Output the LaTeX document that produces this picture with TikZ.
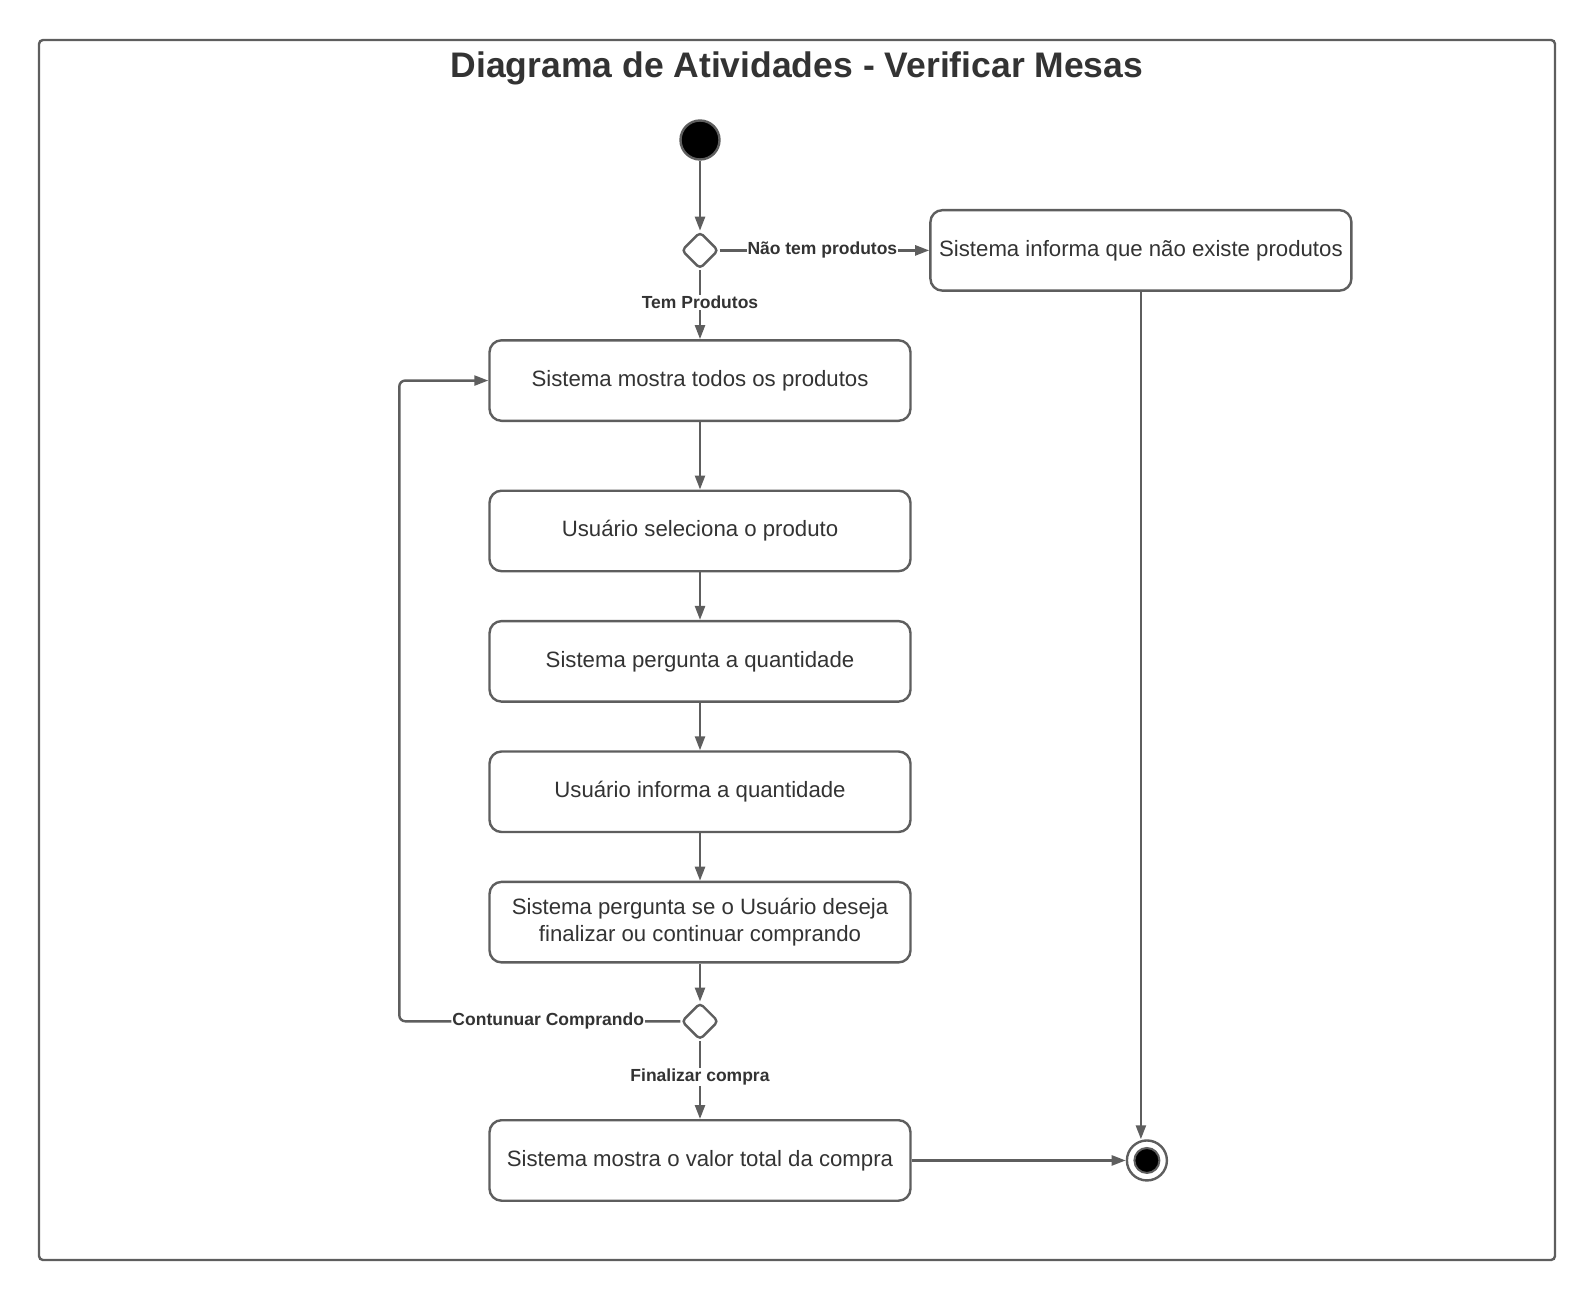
\documentclass[tikz,border=0pt]{standalone}
\usepackage{fontspec}
\setmainfont{Liberation Sans}
\usetikzlibrary{positioning,arrows.meta,shapes.geometric}
\definecolor{aLine}{RGB}{94,94,94}
\definecolor{aText}{RGB}{51,51,51}
\tikzset{
  act/.style={rectangle, rounded corners=12pt, draw=aLine, line width=2.4pt, fill=white,
              minimum height=80.5pt, minimum width=421pt, align=center, text=aText,
              font=\fontsize{22.2}{27}\selectfont},
  dec/.style={diamond, rounded corners=4pt, draw=aLine, line width=2.4pt, fill=white,
              minimum size=37pt, inner sep=0pt},
  ini/.style={circle, draw=aLine, fill=black, line width=2.4pt, minimum size=39pt},
  fin/.style={circle, draw=aLine, fill=white, line width=2.4pt, minimum size=40pt},
  finin/.style={circle, draw=aLine, fill=black, line width=2pt, minimum size=25pt},
  flow/.style={-{Triangle[length=14pt,width=10pt]}, draw=aLine, line width=2.4pt},
  lbl/.style={font=\bfseries\fontsize{17.5}{20}\selectfont, text=aText, fill=white, inner sep=1pt},
}

\begin{document}
\begin{tikzpicture}[x=1pt, y=-1pt, node distance=47.5pt]
  \useasboundingbox (0,0) rectangle (1595,1300);
  \draw[aLine, line width=2.4pt, rounded corners=4pt] (39,40) rectangle (1555,1260);
  \node[font=\bfseries\fontsize{35.5}{40}\selectfont, text=aText] (titulo) at (797,68)
    {Diagrama de Atividades - Verificar Mesas};

  % --- main flow ------------------------------------------------------------
  \node[ini] (inicio) at (700,140) {};
  \node[dec, below=70pt of inicio] (dec1) {};
  \node[act, below=69pt of dec1] (mostra) {Sistema mostra todos os produtos};
  \node[act, below=67.5pt of mostra] (seleciona) {Usuário seleciona o produto};
  \node[act, below=of seleciona] (pergunta) {Sistema pergunta a quantidade};
  \node[act, below=of pergunta] (informa) {Usuário informa a quantidade};
  \node[act, below=of informa] (deseja) {Sistema pergunta se o Usuário deseja\\finalizar ou continuar comprando};
  \node[dec, below=38pt of deseja] (dec2) {};
  \node[act, below=78pt of dec2] (total) {Sistema mostra o valor total da compra};

  % --- no products branch and final node ----------------------------------
  \node[act, right=209.5pt of dec1] (naoexiste) {Sistema informa que não existe produtos};
  \node[fin, right=214pt of total] (fim) {};
  \node[finin] at (fim) {};
  \coordinate[left=89pt of mostra] (volta);

  % --- connectors ----------------------------------------------------------
  \draw[flow] (inicio) -- (dec1);
  \draw[flow] (dec1) -- node[lbl,pos=0.49]{Não tem produtos} (naoexiste);
  \draw[flow] (dec1) -- node[lbl,pos=0.47]{Tem Produtos} (mostra);
  \draw[flow] (mostra) -- (seleciona);
  \draw[flow] (seleciona) -- (pergunta);
  \draw[flow] (pergunta) -- (informa);
  \draw[flow] (informa) -- (deseja);
  \draw[flow] (deseja) -- (dec2);
  \draw[flow, rounded corners=6pt] (dec2.west) -- node[lbl,pos=0.47]{Contunuar Comprando}
    (dec2.west -| volta) -- (volta) -- (mostra.west);
  \draw[flow] (dec2) -- node[lbl,pos=0.46]{Finalizar compra} (total);
  \draw[flow] (total) -- (fim);
  \draw[flow] (naoexiste.south) -- (naoexiste.south |- fim.north);
\end{tikzpicture}
\end{document}
